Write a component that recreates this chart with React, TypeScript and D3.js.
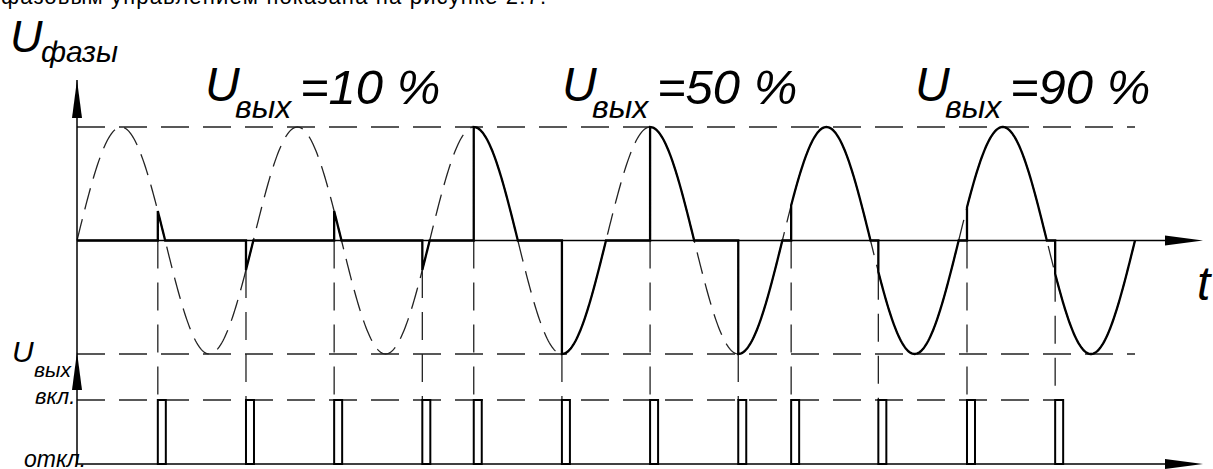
import * as d3 from "d3";
import React from "react";

// firing angle (degrees from the start of each half-cycle)
const firingAngles = [165, 165, 165, 165, 90, 90, 90, 90, 18, 16, 17, 17];
const sectionLabels = ["=10 %", "=50 %", "=90 %"];
const sectionLabelX = [205, 562, 915];
const axisLabels = { top: "U", topSub: "фазы", out: "U", outSub: "вых", on: "вкл.", off: "откл.", t: "t" };
const headerText = "фазовым управлением показана на рисунке 2.7.";

const W = 1213;
const H = 469;
const FONT = "'Liberation Sans', Arial, sans-serif";

const x0 = 77;
const xEnd = 1135;
const halfCount = firingAngles.length;

const xScale = d3.scaleLinear().domain([0, halfCount * 180]).range([x0, xEnd]);
const yScale = d3.scaleLinear().domain([-1, 1]).range([354, 127]);
const pulseScale = d3.scaleLinear().domain([0, 1]).range([464, 400]);

const sinD = (deg: number) => Math.sin((deg * Math.PI) / 180);

const line = d3
  .line<[number, number]>()
  .x((d) => xScale(d[0]))
  .y((d) => yScale(d[1]));

const Arrow = ({ x, y, dir }: { x: number; y: number; dir: "up" | "right" }) => {
  const len = 38;
  const hw = 5;
  const pts =
    dir === "up"
      ? [[x, y], [x - hw, y + len], [x + hw, y + len]]
      : [[x, y], [x - len, y - hw], [x - len, y + hw]];
  return <polygon points={pts.map((p) => p.join(",")).join(" ")} fill="#000" />;
};

const App = () => {
  // full sine, dashed
  const sinePts: [number, number][] = d3
    .range(0, halfCount * 180 + 1, 2)
    .map((a) => [a, sinD(a)] as [number, number]);

  // output voltage (solid)
  const outPts: [number, number][] = [];
  firingAngles.forEach((ang, k) => {
    const s = k * 180;
    const f = s + ang;
    outPts.push([s, 0]);
    outPts.push([f, 0]);
    for (let a = f; a < s + 180; a += 2) outPts.push([a, sinD(a)]);
    outPts.push([s + 180, 0]);
  });

  const yZero = yScale(0);
  const yTop = yScale(1);
  const yBot = yScale(-1);
  const yOn = pulseScale(1);
  const yOff = pulseScale(0);
  const pulseW = 8;

  return (
    <div style={{ position: "fixed", left: 0, top: 0 }}>
      <svg width={W} height={H} style={{ display: "block", background: "#fff" }}>
        <text x={1} y={4} fontFamily={FONT} fontSize={22} textLength={545} fill="#000">
          {headerText}
        </text>

        {/* dashed reference levels */}
        <g stroke="#222" strokeWidth={1.3} strokeDasharray="28,14" fill="none">
          <line x1={x0} x2={xEnd} y1={yTop} y2={yTop} />
          <line x1={x0} x2={xEnd} y1={yBot} y2={yBot} />
          <line
            x1={x0}
            x2={xScale((halfCount - 1) * 180 + firingAngles[halfCount - 1]) + pulseW}
            y1={yOn}
            y2={yOn}
          />
        </g>

        {/* dashed sine */}
        <path d={line(sinePts) || undefined} fill="none" stroke="#222" strokeWidth={1.3} strokeDasharray="22,10" />

        {/* dashed verticals from firing points down to the pulses */}
        <g stroke="#222" strokeWidth={1.3} strokeDasharray="28,14">
          {firingAngles.map((ang, k) => {
            const f = k * 180 + ang;
            const yStart = Math.max(yZero, yScale(sinD(f)));
            return <line key={k} x1={xScale(f)} x2={xScale(f)} y1={yStart} y2={yOn} />;
          })}
        </g>

        {/* axes */}
        <g stroke="#000" strokeWidth={1.5}>
          <line x1={x0} x2={x0} y1={80} y2={yOff} />
          <line x1={x0} x2={1170} y1={yZero} y2={yZero} />
          <line x1={x0} x2={1170} y1={yOff} y2={yOff} />
        </g>
        <Arrow x={x0} y={80} dir="up" />
        <Arrow x={x0} y={352} dir="up" />
        <Arrow x={1203} y={yZero} dir="right" />
        <Arrow x={1203} y={yOff} dir="right" />

        {/* output voltage */}
        <path d={line(outPts) || undefined} fill="none" stroke="#000" strokeWidth={2.3} strokeLinejoin="miter" />

        {/* gate pulses */}
        <g fill="none" stroke="#000" strokeWidth={2}>
          {firingAngles.map((ang, k) => {
            const f = xScale(k * 180 + ang);
            return <rect key={k} x={f} y={yOn} width={pulseW} height={yOff - yOn} />;
          })}
        </g>

        {/* labels */}
        <g fontFamily={FONT} fontStyle="italic" fill="#000">
          <text x={10} y={52} fontSize={45}>{axisLabels.top}</text>
          <text x={41} y={62} fontSize={30}>{axisLabels.topSub}</text>

          {sectionLabels.map((lab, i) => (
            <g key={i}>
              <text x={sectionLabelX[i]} y={101} fontSize={48}>U</text>
              <text x={sectionLabelX[i] + 30} y={118} fontSize={32}>вых</text>
              <text x={sectionLabelX[i] + 95} y={104} fontSize={49}>{lab}</text>
            </g>
          ))}

          <text x={12} y={362} fontSize={30}>{axisLabels.out}</text>
          <text x={34} y={377} fontSize={21}>{axisLabels.outSub}</text>
          <text x={35} y={404} fontSize={22}>{axisLabels.on}</text>
          <text x={24} y={467} fontSize={23}>{axisLabels.off}</text>
          <text x={1197} y={300} fontSize={48}>{axisLabels.t}</text>
        </g>
      </svg>
    </div>
  );
};

export default App;
